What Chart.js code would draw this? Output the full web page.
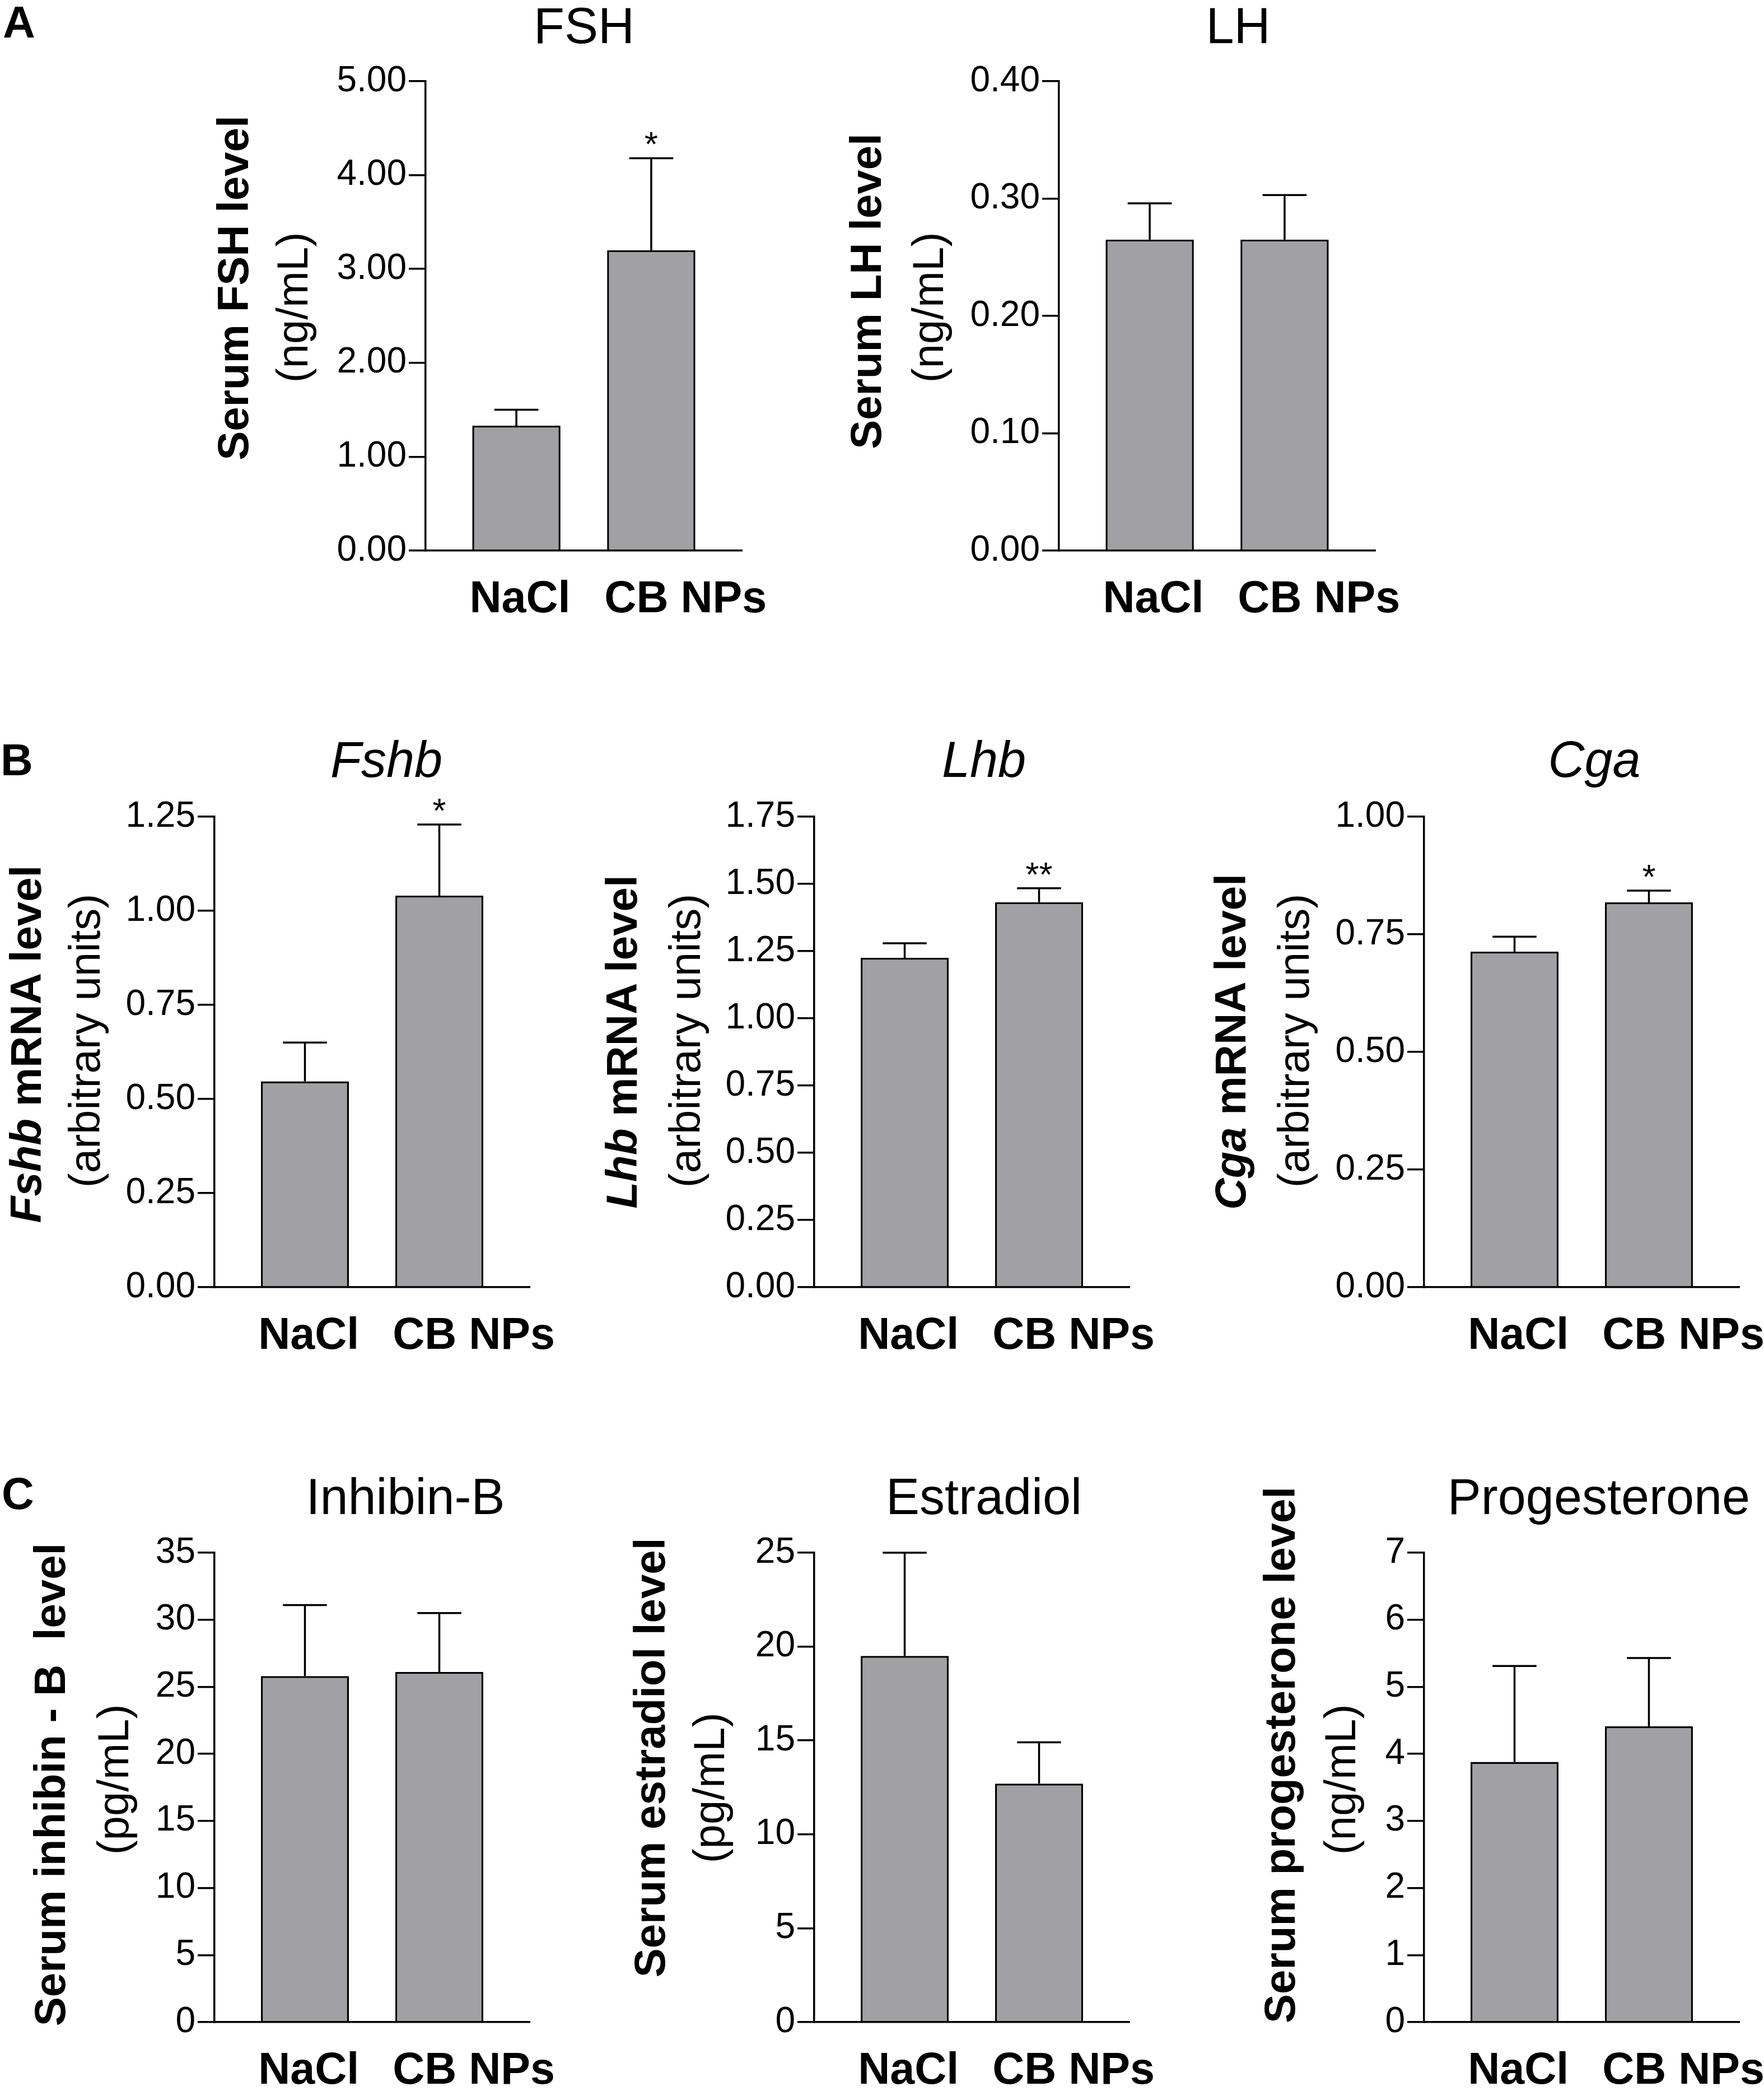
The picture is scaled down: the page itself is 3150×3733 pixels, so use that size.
<!DOCTYPE html>
<html>
<head>
<meta charset="utf-8">
<script src="https://cdn.jsdelivr.net/npm/chart.js@4.4.1/dist/chart.umd.min.js"></script>
<style>
  html, body { margin: 0; padding: 0; background: #fff; }
  body { position: relative; width: 3150px; height: 3733px; overflow: hidden; color: #000;
         font-family: "Liberation Sans", Arial, Helvetica, sans-serif; }
  canvas { position: absolute; }
  .t { position: absolute; white-space: pre; line-height: 1; transform: translate(-50%, -50%); }
  .v { transform: translate(-50%, -50%) rotate(-90deg); }
</style>
</head>
<body>
<script>
// Groups on the x axis
const groups = ['NaCl', 'CB NPs'];

// A - serum hormones
const fshMean = [1.33, 3.20];
const fshSem = [0.17, 0.98];
const fshStars = ['', '*'];
const fshTicks = ['0.00', '1.00', '2.00', '3.00', '4.00', '5.00'];

const lhMean = [0.265, 0.265];
const lhSem = [0.031, 0.038];
const lhStars = ['', ''];
const lhTicks = ['0.00', '0.10', '0.20', '0.30', '0.40'];

// B - pituitary mRNA
const fshbMean = [0.547, 1.040];
const fshbSem = [0.103, 0.189];
const fshbStars = ['', '*'];
const fshbTicks = ['0.00', '0.25', '0.50', '0.75', '1.00', '1.25'];

const lhbMean = [1.225, 1.432];
const lhbSem = [0.054, 0.052];
const lhbStars = ['', '**'];
const lhbTicks = ['0.00', '0.25', '0.50', '0.75', '1.00', '1.25', '1.50', '1.75'];

const cgaMean = [0.713, 0.818];
const cgaSem = [0.032, 0.025];
const cgaStars = ['', '*'];
const cgaTicks = ['0.00', '0.25', '0.50', '0.75', '1.00'];

// C - gonadal hormones
const inhMean = [25.8, 26.1];
const inhSem = [5.3, 4.4];
const inhStars = ['', ''];
const inhTicks = ['0', '5', '10', '15', '20', '25', '30', '35'];

const e2Mean = [19.5, 12.7];
const e2Sem = [5.5, 2.2];
const e2Stars = ['', ''];
const e2Ticks = ['0', '5', '10', '15', '20', '25'];

const p4Mean = [3.88, 4.41];
const p4Sem = [1.43, 1.02];
const p4Stars = ['', ''];
const p4Ticks = ['0', '1', '2', '3', '4', '5', '6', '7'];

const FONT = '"Liberation Sans", Arial, Helvetica, sans-serif';
const LW = 3.5;          // line width of axes, bars, error bars
const Y_W = 200;         // space reserved for y ticks
const X_H = 150;         // space reserved for x labels
const PAD_T = 100;
const PAD_R = 120;
const BAR_FRAC = 0.654;  // bar width / bar spacing
const EDGE = 0.673;      // axis end beyond the outer bar centres

// plot areas in page pixels
const charts = [
  { mean: fshMean, sem: fshSem, stars: fshStars, ticks: fshTicks, left: 760, top: 145, right: 1325, bottom: 983 },
  { mean: lhMean, sem: lhSem, stars: lhStars, ticks: lhTicks, left: 1891, top: 145, right: 2456, bottom: 983 },
  { mean: fshbMean, sem: fshbSem, stars: fshbStars, ticks: fshbTicks, left: 383, top: 1458, right: 946, bottom: 2298 },
  { mean: lhbMean, sem: lhbSem, stars: lhbStars, ticks: lhbTicks, left: 1454, top: 1458, right: 2017, bottom: 2298 },
  { mean: cgaMean, sem: cgaSem, stars: cgaStars, ticks: cgaTicks, left: 2543, top: 1458, right: 3106, bottom: 2298 },
  { mean: inhMean, sem: inhSem, stars: inhStars, ticks: inhTicks, left: 383, top: 2772, right: 946, bottom: 3610 },
  { mean: e2Mean, sem: e2Sem, stars: e2Stars, ticks: e2Ticks, left: 1454, top: 2772, right: 2017, bottom: 3610 },
  { mean: p4Mean, sem: p4Sem, stars: p4Stars, ticks: p4Ticks, left: 2543, top: 2772, right: 3106, bottom: 3610 },
];

// html, centre x, centre y, size, bold, rotated
const texts = [
  ['A', 34, 40, 80, true, false],
  ['B', 30, 1357, 80, true, false],
  ['C', 32, 2667, 80, true, false],
  ['FSH', 1043, 46, 90, false, false],
  ['LH', 2211, 46, 90, false, false],
  ['<i>Fshb</i>', 690, 1356, 90, false, false],
  ['<i>Lhb</i>', 1757, 1356, 90, false, false],
  ['<i>Cga</i>', 2847, 1356, 90, false, false],
  ['Inhibin-B', 724, 2672, 90, false, false],
  ['Estradiol', 1757, 2672, 90, false, false],
  ['Progesterone', 2855, 2672, 90, false, false],
  ['Serum FSH level', 416, 514, 78, true, true],
  ['(ng/mL)', 522, 549, 78, false, true],
  ['Serum LH level', 1546, 520, 78, true, true],
  ['(ng/mL)', 1657, 549, 78, false, true],
  ['<i>Fshb</i> mRNA level', 46, 1864, 78, true, true],
  ['(arbitrary units)', 151, 1858, 78, false, true],
  ['<i>Lhb</i> mRNA level', 1110, 1860, 78, true, true],
  ['(arbitrary units)', 1223, 1858, 78, false, true],
  ['<i>Cga</i> mRNA level', 2197, 1860, 78, true, true],
  ['(arbitrary units)', 2310, 1858, 78, false, true],
  ['Serum inhibin - B  level', 89, 3186, 78, true, true],
  ['(pg/mL)', 202, 3177, 78, false, true],
  ['Serum estradiol level', 1160, 3138, 78, true, true],
  ['(pg/mL)', 1266, 3192, 78, false, true],
  ['Serum progesterone level', 2285, 3133, 78, true, true],
  ['(ng/mL)', 2393, 3177, 78, false, true],
];

texts.forEach(([html, x, y, size, bold, rot]) => {
  const d = document.createElement('div');
  d.className = rot ? 't v' : 't';
  d.style.left = x + 'px';
  d.style.top = y + 'px';
  d.style.fontSize = size + 'px';
  d.style.fontWeight = bold ? 'bold' : 'normal';
  d.innerHTML = html;
  document.body.appendChild(d);
});

// upper error bar with cap, plus significance stars
const errorBars = {
  id: 'errorBars',
  afterDatasetsDraw(chart, args, opts) {
    const { ctx } = chart;
    const y = chart.scales.y;
    const meta = chart.getDatasetMeta(0);
    ctx.save();
    ctx.strokeStyle = '#000';
    ctx.fillStyle = '#000';
    ctx.lineWidth = LW;
    meta.data.forEach((bar, i) => {
      const top = y.getPixelForValue(opts.mean[i] + opts.sem[i]);
      const half = bar.width / 4;
      ctx.beginPath();
      ctx.moveTo(bar.x, bar.y);
      ctx.lineTo(bar.x, top);
      ctx.moveTo(bar.x - half, top);
      ctx.lineTo(bar.x + half, top);
      ctx.stroke();
      if (opts.stars[i]) {
        ctx.font = '62px ' + FONT;
        ctx.textAlign = 'center';
        ctx.textBaseline = 'alphabetic';
        ctx.fillText(opts.stars[i], bar.x, top - 4);
      }
    });
    ctx.restore();
  }
};

charts.forEach(c => {
  const w = Y_W + (c.right - c.left) + PAD_R;
  const h = PAD_T + (c.bottom - c.top) + X_H;
  const canvas = document.createElement('canvas');
  canvas.width = w;
  canvas.height = h;
  canvas.style.left = (c.left - Y_W) + 'px';
  canvas.style.top = (c.top - PAD_T) + 'px';
  canvas.style.width = w + 'px';
  canvas.style.height = h + 'px';
  document.body.appendChild(canvas);

  const xMin = -EDGE;
  const xMax = groups.length - 1 + EDGE;

  new Chart(canvas, {
    type: 'bar',
    data: {
      datasets: [{
        data: c.mean.map((v, i) => ({ x: i, y: v })),
        backgroundColor: '#a1a1a5',
        borderColor: '#000',
        borderWidth: LW,
        categoryPercentage: 1,
        barPercentage: BAR_FRAC,
      }],
    },
    plugins: [errorBars],
    options: {
      responsive: false,
      animation: false,
      events: [],
      layout: { padding: { left: 0, top: PAD_T, right: PAD_R, bottom: 0 } },
      plugins: {
        legend: { display: false },
        tooltip: { enabled: false },
        errorBars: { mean: c.mean, sem: c.sem, stars: c.stars },
      },
      scales: {
        x: {
          type: 'linear',
          offset: false,
          bounds: 'data',
          min: xMin,
          max: xMax,
          afterBuildTicks: s => {
            s.min = xMin;
            s.max = xMax;
            // labels start at the left edge of each bar
            s.ticks = groups.map((g, i) => ({ value: i - BAR_FRAC / 2 - 0.02 }));
          },
          afterFit: s => { s.height = X_H; s.paddingLeft = 0; s.paddingRight = 0; },
          grid: { display: false, drawTicks: false, offset: false },
          border: { display: true, color: '#000', width: LW },
          ticks: {
            autoSkip: false, maxRotation: 0, minRotation: 0, align: 'start', padding: 41, color: '#000',
            font: { family: FONT, size: 79, weight: 'bold' },
            callback: (v, i) => groups[i],
          },
        },
        y: {
          min: 0,
          max: parseFloat(c.ticks[c.ticks.length - 1]),
          afterBuildTicks: s => { s.ticks = c.ticks.map(t => ({ value: parseFloat(t) })); },
          afterFit: s => { s.width = Y_W; s.paddingTop = 0; s.paddingBottom = 0; },
          grid: { display: true, drawOnChartArea: false, drawTicks: true, tickLength: 30, color: '#000', lineWidth: LW },
          border: { display: true, color: '#000', width: LW },
          ticks: {
            padding: 4, color: '#000',
            font: { family: FONT, size: 64 },
            callback: (v, i) => c.ticks[i],
          },
        },
      },
    },
  });
});
</script>
</body>
</html>
